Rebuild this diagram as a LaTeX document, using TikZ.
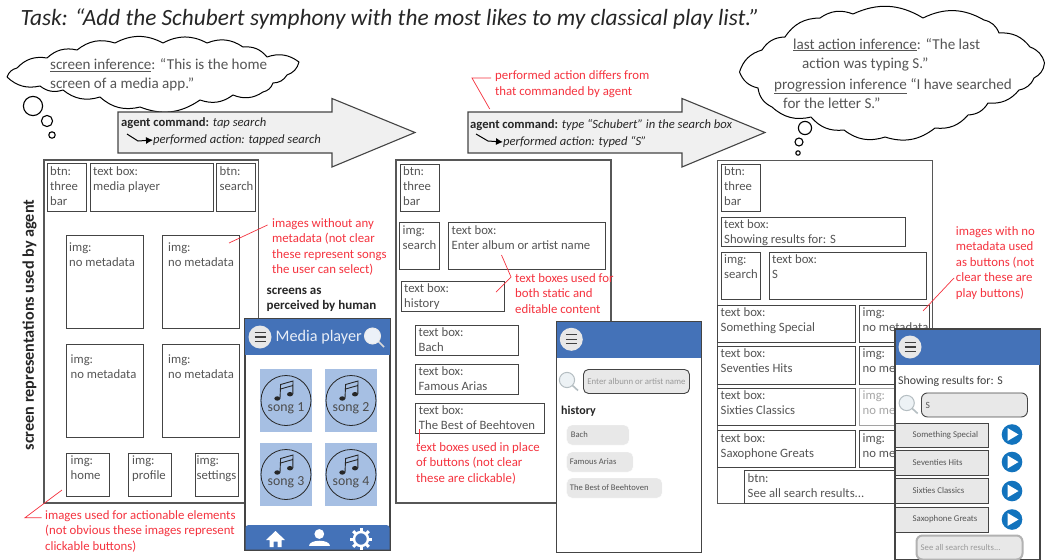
\documentclass[tikz,border=0pt]{standalone}
\usepackage{fontspec}
\usetikzlibrary{arrows.meta}
\setmainfont{Carlito}
\definecolor{ink}{HTML}{555555}
\definecolor{edge}{HTML}{444444}
\definecolor{redn}{HTML}{F5333F}
\definecolor{hdr}{HTML}{4472B8}
\definecolor{lblue}{HTML}{A6BFE3}
\definecolor{pill}{HTML}{E8E8E8}
\definecolor{play}{HTML}{1273BD}
\definecolor{lensc}{HTML}{B5BEC2}
\definecolor{lensf}{HTML}{EDF2F5}
\tikzset{
  bxs/.style={draw=edge,line width=0.9pt,fill=white,inner sep=0pt,outer sep=0pt,anchor=north west},
  bxt/.style={text=ink,inner sep=0pt,anchor=north west,align=left,font=\fontsize{12.7}{15}\selectfont},
  scr/.style={draw=edge!90,line width=1.2pt,fill=white,inner sep=0pt,outer sep=0pt,anchor=north west},
  phone/.style={draw=edge,line width=1.1pt,fill=white,inner sep=0pt,outer sep=0pt,anchor=north west},
  note/.style={text=redn,inner sep=0pt,anchor=north west,align=left,font=\fontsize{12.8}{15.5}\selectfont},
  lead/.style={draw=redn,line width=0.7pt},
  cloudst/.style={draw=black,line width=1pt,fill=white,line join=round,every to/.style={bend left=28}},
  bubble/.style={draw=black,line width=1.1pt,fill=white},
  thought/.style={text=ink,inner sep=0pt,anchor=north west,align=left,font=\fontsize{15.1}{19}\selectfont},
  arrowst/.style={draw=edge,line width=1.1pt,fill=black!6,line join=miter},
  cmd/.style={text=black!85,inner sep=0pt,anchor=west,font=\fontsize{12.6}{15}\selectfont},
  head/.style={inner sep=0pt,anchor=north west,align=left,text=black!85,font=\fontsize{13}{15}\selectfont\bfseries},
  pillst/.style={fill=pill,rounded corners=5pt,draw=white,line width=.4pt,inner sep=0pt,outer sep=0pt,anchor=north west},
  pilltx/.style={text=ink,inner sep=0pt,anchor=west,font=\fontsize{8.6}{10}\selectfont},
  rbtn/.style={draw=edge,line width=1pt,fill=pill,inner sep=0pt,outer sep=0pt,anchor=north west},
  rtx/.style={text=ink,inner sep=0pt,anchor=west,font=\fontsize{8.8}{10}\selectfont}
}
\newcommand\ox{3}\newcommand\oy{2.8}
\newcommand\bx[6]{%
  \pgfmathsetlengthmacro\bw{(#4)-(#2)}\pgfmathsetlengthmacro\bh{(#5)-(#3)}%
  \node[bxs,minimum width=\bw,minimum height=\bh] (#1) at (#2,#3) {};
  \node[bxt] (#1t) at ([xshift=\ox pt,yshift=-\oy pt]#1.north west) {#6};}
\newcommand\burger[3]{%
  \fill[pill] (#2,#3) circle (11.5);
  \draw[black!75,line width=1.1pt] (#2-5.5,#3-4.5) -- (#2+5.5,#3-4.5) (#2-5.5,#3) -- (#2+5.5,#3) (#2-5.5,#3+4.5) -- (#2+5.5,#3+4.5);
  \coordinate (#1) at (#2,#3);}
\newcommand\lens[2]{%
  \draw[lensc,line width=1.6pt] (#1+5.3,#2+5.3) -- (#1+11,#2+10.5);
  \draw[lensc,line width=1pt,fill=lensf] (#1,#2) circle (7.6);}
\newcommand\song[4]{%
  \begin{scope}[shift={(#2,#3)}]
    \fill[lblue] (-26,-31.5) rectangle (26,31.5);
    \draw[black!85,line width=.8pt] (0,0) circle (25);
    \fill[black!85] (-8.7,-2) ellipse (3 and 2.2) (4,-6.3) ellipse (3 and 2.2);
    \draw[black!85,line width=.9pt] (-6,-2) -- (-5.4,-16) -- (7,-19.5) -- (6.8,-6.5) (-5.5,-11.5) -- (6.9,-15);
    \node[text=black!70,inner sep=0pt,font=\fontsize{13.8}{15}\selectfont] (#1) at (0,7.8) {#4};
  \end{scope}}
\begin{document}
\begin{tikzpicture}[x=1pt,y=-1pt]
\useasboundingbox (0,0) rectangle (1045,560);
\fill[white] (0,0) rectangle (1045,560);
% title
\node[inner sep=0pt,anchor=west,text=black!85,font=\fontsize{23.3}{26}\selectfont\itshape] (title) at (20.5,19) {Task: “Add the Schubert symphony with the most likes to my classical play list.”};
% clouds
\draw[cloudst] (7,77) to (17,68) to (47,58) to (77,50) to (115,43) to (163,43) to (207,43) to (243,47) to (267,57) to (299,62) to (287,75) to (273,83) to (263,92) to (233,95) to (200,100) to (140,107) to (100,97) to (63,90) to (40,86) to (7,77);
\node[thought] (inf1) at (50,58.5) {\underline{screen inference}: “This is the home\\screen of a media app.”};
\draw[bubble] (33,106) circle (9.6) (47,121) circle (5.6) (52,135) circle (3.2);
\draw[cloudst] (739.5,72) to (762,50) to (785,37) to (820,18) to (853,14) to (923,18) to (984,20) to (999,33) to (1030,47) to (1044.5,63) to (1034,78) to (1019,90) to (988,103) to (968,115) to (935,128) to (885,137) to (844,130) to (811,117) to (772,107) to (758,88) to (739.5,72);
\node[thought] (inf2a) at (793,38) {\underline{last action inference}: “The last\\\hspace*{9pt}action was typing S.”};
\node[thought] (inf2b) at (774,78.5) {\underline{progression inference} “I have searched\\\hspace*{9pt}for the letter S.”};
\draw[bubble] (805,128) circle (6.6) (799,142) circle (4) (798,153) circle (2.2);
% command arrows
\draw[arrowst] (118,112) -- (332,112) -- (332,98.5) -- (415,132.5) -- (332,167) -- (332,153) -- (118,153) -- cycle;
\node[cmd] (cmd1) at (121,123) {\textbf{agent command:} \textit{tap search}};
\node[cmd] (perf1) at (153,140) {\textit{performed action: tapped search}};
\coordinate (b1) at (127,134);
\draw[black,line width=1pt,-{Latex[length=7pt,width=7pt]}] (b1) -- (138,141) -- (perf1.west);
\draw[arrowst] (468,112) -- (682,112) -- (682,98.5) -- (765,132.5) -- (682,167) -- (682,153) -- (468,153) -- cycle;
\node[cmd] (cmd2) at (470,125) {\textbf{agent command:} \textit{type “Schubert” in the search box}};
\node[cmd] (perf2) at (503,142) {\textit{performed action: typed “S”}};
\coordinate (b2) at (476,134);
\draw[black,line width=1pt,-{Latex[length=7pt,width=7pt]}] (b2) -- (488,141) -- (perf2.west);
% side heading
\node[rotate=90,inner sep=0pt,text=black!85,font=\fontsize{16.2}{16}\selectfont\bfseries] (side) at (29.5,325) {screen representations used by agent};
% screen 1
\node[scr,minimum width=214.5pt,minimum height=343pt] (s1) at (44,160) {};
\bx{a1}{47}{163.5}{86.5}{211}{btn:\\three\\bar}
\bx{a2}{90}{163.5}{213.5}{211}{text box:\\media player}
\bx{a3}{216.5}{163.5}{255.5}{211}{btn:\\search}
\renewcommand\ox{3}\renewcommand\oy{7.5}
\bx{a4}{66}{235}{143}{328}{img:\\no metadata}
\renewcommand\ox{6}
\bx{a5}{162}{235}{239}{328}{img:\\no metadata}
\renewcommand\ox{4.5}\renewcommand\oy{10.5}
\bx{a6}{66}{344}{143}{437}{img:\\no metadata}
\renewcommand\ox{6}
\bx{a7}{162}{344}{239}{437}{img:\\no metadata}
\renewcommand\ox{4.5}\renewcommand\oy{3}
\bx{a8}{66}{453}{109}{496}{img:\\home}
\renewcommand\ox{3.5}
\bx{a9}{128.5}{453}{171}{496}{img:\\profile}
\renewcommand\ox{1.5}
\bx{a10}{195}{453}{238}{496}{img:\\settings}
\renewcommand\ox{3}\renewcommand\oy{2.6}
% screen 2
\node[scr,minimum width=215pt,minimum height=343pt] (s2) at (396,160) {};
\bx{c1}{400}{164}{439}{211}{btn:\\three\\bar}
\bx{c2}{399.5}{222.7}{439}{269.7}{img:\\search}
\bx{c3}{448.5}{222.7}{605}{269.7}{text box:\\Enter album or artist name}
\bx{c4}{401}{281}{504}{311}{text box:\\history}
\bx{c5}{415.5}{325}{518.7}{355}{text box:\\Bach}
\bx{c6}{415.5}{364}{518.7}{394}{text box:\\Famous Arias}
\bx{c7}{415.7}{403}{544}{433}{text box:\\The Best of Beehtoven}
% screen 3
\node[scr,minimum width=215pt,minimum height=343pt] (s3) at (717.5,160.5) {};
\bx{e1}{721}{164}{760}{211}{btn:\\three\\bar}
\bx{e2}{721}{217}{905}{246.5}{text box:\\Showing results for: S}
\bx{e3}{721}{252}{760}{299}{img:\\search}
\bx{e4}{769}{252}{926.7}{299}{text box:\\S}
\bx{e5}{717.5}{305}{855.5}{342}{text box:\\Something Special}
\bx{e6}{859.5}{305}{929}{342}{img:\\no metadata}
\bx{e7}{717.5}{346}{855.5}{384}{text box:\\Seventies Hits}
\bx{e8}{859.5}{346}{929}{384}{img:\\no metadata}
\bx{e9}{717.5}{388}{855.5}{425}{text box:\\Sixties Classics}
\node[bxs,draw=edge!50,minimum width=69.5pt,minimum height=37pt] (e10) at (859.5,388) {};
\node[bxt,text=black!35] (e10t) at ([xshift=3pt,yshift=-2.6pt]e10.north west) {img:\\no metadata};
\bx{e11}{717.5}{430.5}{855.5}{467}{text box:\\Saxophone Greats}
\bx{e12}{859.5}{430.5}{929}{467}{img:\\no metadata}
\bx{e13}{744.5}{470.5}{932}{503}{btn:\\See all search results...}
% red notes
\node[note] (n1) at (495,70.5) {performed action differs from\\that commanded by agent};
\coordinate (n1a) at (472,78); \coordinate (n1b) at (489.7,109); \coordinate (n1c) at (491,78);
\draw[lead] (n1c) -- (n1a) -- (n1b);
\node[note] (n2) at (272,218) {images without any\\metadata (not clear\\these represent songs\\the user can select)};
\coordinate (n2a) at (229,243); \coordinate (n2b) at (267.5,225);
\draw[lead] (n2a) -- (n2b);
\node[note] (n3) at (45,510) {images used for actionable elements\\(not obvious these images represent\\clickable buttons)};
\coordinate (n3a) at (25,517.7); \coordinate (n3b) at (62,490); \coordinate (n3c) at (41.7,517.7);
\draw[lead] (n3b) -- (n3a) -- (n3c);
\node[note] (n4) at (416,442) {text boxes used in place\\of buttons (not clear\\these are clickable)};
\coordinate (n4a) at (419,429); \coordinate (n4b) at (419,444);
\draw[lead,line width=.9pt] (n4a) -- (n4b);
\node[note] (n5) at (515,273) {text boxes used for\\both static and\\editable content};
\coordinate (n5a) at (501.5,255); \coordinate (n5b) at (511,277); \coordinate (n5c) at (496,292);
\draw[lead] (n5a) -- (n5b) -- (n5c);
\node[note] (n6) at (955.7,226) {images with no\\metadata used\\as buttons (not\\clear these are\\play buttons)};
\coordinate (n6a) at (923,311); \coordinate (n6b) at (954,278);
\draw[lead] (n6a) -- (n6b);
\node[head] (hum) at (266.5,288) {screens as\\perceived by human};
% phone 1
\node[phone,minimum width=145pt,minimum height=231.5pt] (p1) at (245,318.5) {};
\fill[hdr] (245,319) rectangle (390,355);
\burger{p1m}{260}{337}
\node[inner sep=0pt,anchor=west,text=white!88!hdr,font=\fontsize{16.2}{18}\selectfont] (p1t) at (275.5,337) {Media player};
\draw[white!70!gray,line width=1.5pt] (378,341) -- (384,347);
\draw[white!85!gray,line width=1pt,fill=white!90!hdr] (372.5,336) circle (8);
\song{s1a}{286}{400.5}{song 1}
\song{s1b}{351}{400.5}{song 2}
\song{s1c}{286}{474.5}{song 3}
\song{s1d}{351}{474.5}{song 4}
\fill[hdr] (245.5,549.7) {[rounded corners=3pt] -- (245.5,525) -- (389.5,525)} -- (389.5,549.7) -- cycle;
\fill[white] (266,540) -- (275.5,531) -- (285,540) -- (281.5,540) -- (281.5,547) -- (277.5,547) -- (277.5,541.5) -- (273.5,541.5) -- (273.5,547) -- (269.5,547) -- (269.5,540) -- cycle;
\fill[white] (319.3,534) circle (4.9);
\fill[white] (309,545.5) .. controls (309,538.5) and (329.5,538.5) .. (329.5,545.5) -- cycle;
\draw[white,line width=2.4pt] (361,539) circle (7);
\foreach \a in {0,45,...,315} \draw[white,line width=3pt] (361,539) ++(\a:7.5) -- ++(\a:3.5);
% phone 2
\node[phone,minimum width=145pt,minimum height=231pt] (p2) at (556.7,321.7) {};
\fill[hdr] (557.2,322.2) rectangle (701.2,357.7);
\burger{p2m}{571.3}{339.3}
\lens{567}{380}
\node[draw=edge,line width=.9pt,fill=pill,rounded corners=5pt,inner sep=0pt,anchor=north west,minimum width=106pt,minimum height=24pt] (p2i) at (583,369) {};
\node[inner sep=0pt,text=black!40,font=\fontsize{8.8}{10}\selectfont] (p2it) at (p2i.center) {Enter albunn or artist name};
\node[inner sep=0pt,anchor=west,text=black!85,font=\fontsize{12}{13}\selectfont\bfseries] (p2h) at (561,411) {history};
\node[pillst,minimum width=62.5pt,minimum height=20pt] (q1) at (566.7,425) {};
\node[pilltx] (q1t) at ([xshift=4pt]q1.west) {Bach};
\node[pillst,minimum width=66.5pt,minimum height=20pt] (q2) at (566.7,452) {};
\node[pilltx] (q2t) at ([xshift=3pt]q2.west) {Famous Arias};
\node[pillst,minimum width=95.5pt,minimum height=20pt] (q3) at (566.7,478) {};
\node[pilltx] (q3t) at ([xshift=3pt]q3.west) {The Best of Beehtoven};
% phone 3
\node[phone,minimum width=145pt,minimum height=231pt] (p3) at (895,329) {};
\fill[hdr] (895.5,329.5) rectangle (1039.5,365);
\burger{p3m}{910}{347}
\node[inner sep=0pt,anchor=west,text=black!75,font=\fontsize{11.9}{13}\selectfont] (p3t) at (898,381) {Showing results for: S};
\lens{906.7}{403}
\node[draw=edge,line width=.9pt,fill=pill,rounded corners=6pt,inner sep=0pt,anchor=north west,minimum width=106pt,minimum height=24pt] (p3i) at (921,392.5) {};
\node[inner sep=0pt,anchor=west,text=ink,font=\fontsize{9.5}{10}\selectfont] (p3it) at ([xshift=4.5pt]p3i.west) {S};
\foreach \nm/\y/\h/\lbl/\py in {r1/423/24.5/Something Special/434.5, r2/450/25/Seventies Hits/462, r3/478/25/Sixties Classics/491, r4/507/25/Saxophone Greats/519.5}{
  \node[rbtn,minimum width=93pt,minimum height=\h pt] (\nm) at (895,\y) {};
  \node[rtx] (\nm t) at ([xshift=17.5pt]\nm.west) {\lbl};
  \fill[play] (1012,\py) circle (10.3);
  \fill[white] (1007.5,\py-6.5) -- (1018.5,\py) -- (1007.5,\py+6.5) -- cycle;
}
\node[draw=black!30,line width=2pt,fill=pill,rounded corners=6pt,inner sep=0pt,anchor=north west,minimum width=106pt,minimum height=24pt] (r5) at (915.5,534.5) {};
\node[inner sep=0pt,anchor=west,text=black!40,font=\fontsize{8.7}{10}\selectfont] (r5t) at ([xshift=5pt]r5.west) {See all search results...};
\end{tikzpicture}
\end{document}
